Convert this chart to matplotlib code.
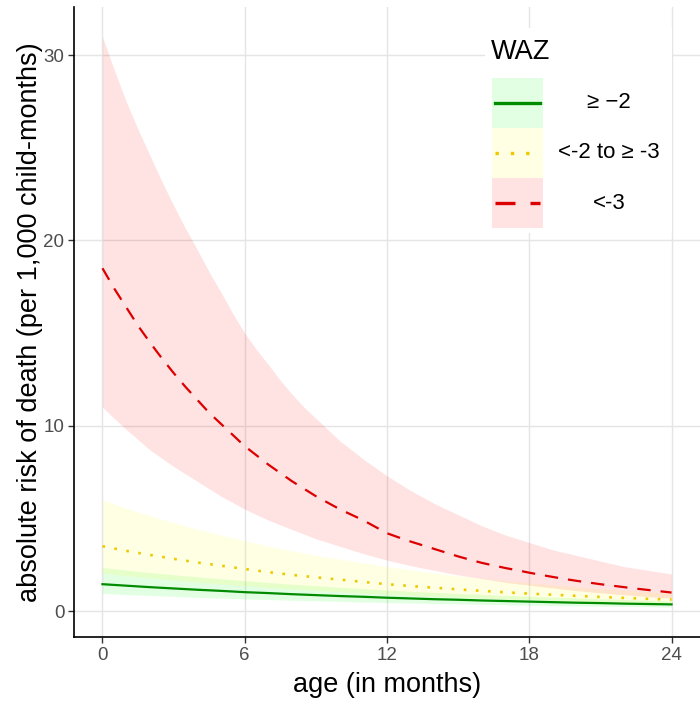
import matplotlib
matplotlib.use("Agg")
import matplotlib.pyplot as plt
from matplotlib.patches import Rectangle
from matplotlib.lines import Line2D

plt.rcParams['font.family'] = ['Liberation Sans', 'DejaVu Sans']

months = list(range(25))
months_half = [i / 2 for i in range(49)]

green_mean = [1.45,1.37,1.29,1.22,1.15,1.09,1.02,0.97,0.91,0.86,0.81,0.77,0.72,0.68,0.64,0.61,0.57,0.54,0.51,0.48,0.45,0.43,0.40,0.38,0.36]
green_hi = [2.35,2.21,2.08,1.96,1.85,1.74,1.64,1.54,1.45,1.37,1.29,1.21,1.14,1.07,1.01,0.95,0.90,0.84,0.80,0.75,0.71,0.66,0.63,0.59,0.55]
green_lo = [0.95,0.89,0.84,0.79,0.74,0.70,0.66,0.62,0.58,0.55,0.52,0.48,0.46,0.43,0.40,0.38,0.36,0.34,0.32,0.30,0.28,0.26,0.25,0.23,0.22]

yellow_mean = [3.5,3.25,3.03,2.82,2.62,2.45,2.27,2.10,1.95,1.82,1.70,1.57,1.45,1.35,1.26,1.17,1.09,1.01,0.94,0.88,0.82,0.76,0.71,0.66,0.62]
yellow_hi = [6.0,5.55,5.15,4.77,4.42,4.10,3.80,3.50,3.25,3.00,2.80,2.60,2.40,2.22,2.06,1.90,1.77,1.63,1.52,1.40,1.30,1.20,1.12,1.04,0.97]
yellow_lo = [2.05,1.91,1.79,1.67,1.56,1.46,1.36,1.27,1.19,1.11,1.04,0.97,0.91,0.85,0.79,0.74,0.69,0.64,0.60,0.56,0.52,0.49,0.46,0.43,0.40]

# red series read at half-month steps
red_mean = [18.5,17.4,16.4,15.4,14.5,13.65,12.85,12.1,11.4,10.7,10.1,9.5,8.9,8.4,7.9,7.45,7.0,6.6,6.2,5.85,5.5,5.2,4.9,4.55,4.2,
            3.97,3.75,3.55,3.35,3.15,2.95,2.77,2.6,2.46,2.32,2.2,2.07,1.95,1.84,1.73,1.63,1.54,1.45,1.37,1.29,1.21,1.14,1.07,1.0]
red_hi = [31.0,29.2,27.5,26.0,24.6,23.2,21.9,20.65,19.5,18.3,17.2,16.05,15.0,14.1,13.3,12.45,11.7,11.0,10.4,9.8,9.2,8.7,8.2,7.75,7.3,
          6.9,6.5,6.15,5.8,5.5,5.2,4.9,4.6,4.35,4.1,3.9,3.7,3.5,3.3,3.15,3.0,2.85,2.7,2.55,2.4,2.3,2.2,2.1,2.0]
red_lo = [11.0,10.4,9.8,9.25,8.7,8.25,7.8,7.4,7.0,6.6,6.2,5.85,5.5,5.2,4.9,4.65,4.4,4.15,3.9,3.7,3.5,3.3,3.1,2.92,2.75,
          2.6,2.45,2.32,2.2,2.07,1.95,1.85,1.75,1.65,1.55,1.47,1.4,1.32,1.25,1.17,1.1,1.04,0.98,0.93,0.88,0.83,0.78,0.74,0.7]

labels = ["\u2265 \u22122", "<-2 to \u2265 -3", "<-3"]
x_ticks = [0, 6, 12, 18, 24]
y_ticks = [0, 10, 20, 30]

W, H = 700, 701
fig = plt.figure(figsize=(W/100, H/100), dpi=100)
ax = fig.add_axes([74/W, (H-637)/H, (700-74)/W, (637-7)/H])

series = [
    (months, green_mean, green_lo, green_hi, '#00FF00', '#008B00', None, 1.6),
    (months, yellow_mean, yellow_lo, yellow_hi, '#FFFF00', '#EEC900', (1.0, 3.6), 1.9),
    (months_half, red_mean, red_lo, red_hi, '#FF0000', '#DD0000', (6, 4.5), 1.6),
]
for xs, mean, lo, hi, fc, lc, dash, lw in series:
    ax.fill_between(xs, lo, hi, color=fc, alpha=0.11, linewidth=0, zorder=1)
for xs, mean, lo, hi, fc, lc, dash, lw in series:
    kw = {}
    if dash is not None:
        kw['dashes'] = dash
    ax.plot(xs, mean, color=lc, linewidth=lw, zorder=3, **kw)

ax.set_xlim(-1.2, 25.2)
ax.set_ylim(-1.4, 32.6)
ax.set_xticks(x_ticks)
ax.set_yticks(y_ticks)
ax.grid(True, color='#E5E5E5', linewidth=1.0, zorder=0)
ax.set_axisbelow(True)
for s in ['top', 'right']:
    ax.spines[s].set_visible(False)
for s in ['left', 'bottom']:
    ax.spines[s].set_color('black')
    ax.spines[s].set_linewidth(1.2)
ax.tick_params(axis='both', colors='#333333', labelcolor='#4D4D4D', labelsize=13.5, length=4, width=1, pad=3)
ax.set_xlabel('age (in months)', fontsize=19.5, color='black', labelpad=6)
ax.set_ylabel('absolute risk of death (per 1,000 child-months)', fontsize=19.5, color='black', labelpad=0)

# legend drawn manually in figure pixel coordinates
def fx(px):
    return px / W
def fy(py):
    return (H - py) / H

fig.patches.append(Rectangle((fx(485), fy(233)), fx(672) - fx(485), fy(28) - fy(233),
                             transform=fig.transFigure, facecolor='white', edgecolor='none', zorder=5))
fig.text(fx(491), fy(52), 'WAZ', fontsize=19.5, va='center', ha='left', zorder=6)
key_top = 78
key_h = 50
for i, (xs, mean, lo, hi, fc, lc, dash, lw) in enumerate(series):
    y0 = key_top + i * key_h
    fig.patches.append(Rectangle((fx(492), fy(y0 + key_h)), fx(543) - fx(492), fy(y0) - fy(y0 + key_h),
                                 transform=fig.transFigure, facecolor=fc, alpha=0.11, edgecolor='none', zorder=6))
    kw = {}
    if dash is not None:
        kw['dashes'] = dash
    fig.lines.append(Line2D([fx(495), fx(540)], [fy(y0 + key_h / 2)] * 2, transform=fig.transFigure,
                            color=lc, linewidth=2.4, zorder=7, **kw))
    fig.text(fx(609), fy(y0 + key_h / 2), labels[i], fontsize=16, ha='center', va='center', zorder=7)

fig.savefig('out.png', dpi=100, facecolor='white')
